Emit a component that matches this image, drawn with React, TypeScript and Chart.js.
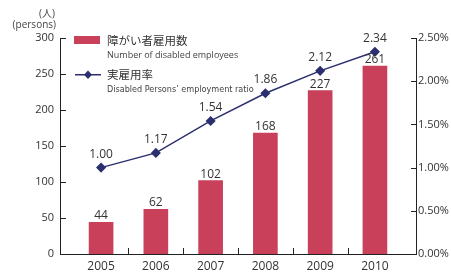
import React, { useEffect, useRef } from "react";
import { Chart, registerables } from "chart.js";

Chart.register(...registerables);

const years = ["2005", "2006", "2007", "2008", "2009", "2010"];
const employees = [44, 62, 102, 168, 227, 261];
const ratio = [1.0, 1.17, 1.54, 1.86, 2.12, 2.34];
const leftTicks = [0, 50, 100, 150, 200, 250, 300];
const rightTicks = [0, 0.5, 1.0, 1.5, 2.0, 2.5];

const BAR_COLOR = "#C8405A";
const LINE_COLOR = "#2C2F6E";
const TEXT = "#333333";
const AXIS = "#222222";
const FONT = "'Open Sans', 'Noto Sans CJK JP', sans-serif";

const axesPlugin = {
  id: "axesPlugin",
  afterDatasetsDraw(chart: any) {
    const ctx = chart.ctx;
    const x = chart.scales.x;
    const y = chart.scales.y;
    const y1 = chart.scales.y1;
    const ca = chart.chartArea;
    const L = Math.round(ca.left);
    const R = Math.round(ca.right);
    const T = Math.round(ca.top);
    const B = Math.round(ca.bottom);
    ctx.save();
    ctx.globalAlpha = 1;
    ctx.globalCompositeOperation = "source-over";
    ctx.fillStyle = AXIS;
    ctx.fillRect(L, T, 1, B - T + 1);
    ctx.fillRect(R, T, 1, B - T + 1);
    ctx.fillRect(L, B, R - L + 1, 1);
    leftTicks.forEach((v) => {
      const py = Math.round(y.getPixelForValue(v));
      ctx.fillRect(L, py, 6, 1);
    });
    rightTicks.forEach((v) => {
      const py = Math.round(y1.getPixelForValue(v));
      ctx.fillRect(R - 5, py, 6, 1);
    });
    for (let i = 0; i < years.length - 1; i++) {
      const px = Math.round(x.getPixelForValue(i + 0.5));
      ctx.fillRect(px, B - 6, 1, 6);
    }
    ctx.restore();
  },
};

const textPlugin = {
  id: "textPlugin",
  afterDraw(chart: any) {
    const ctx = chart.ctx;
    ctx.save();
    ctx.fillStyle = TEXT;
    ctx.textAlign = "center";
    ctx.textBaseline = "alphabetic";
    ctx.font = `12px ${FONT}`;
    chart.getDatasetMeta(0).data.forEach((el: any, i: number) => {
      ctx.fillText(String(employees[i]), el.x, el.y - 3);
    });
    chart.getDatasetMeta(1).data.forEach((el: any, i: number) => {
      ctx.fillText(ratio[i].toFixed(2), el.x, el.y - 10);
    });
    ctx.fillStyle = "#444444";
    ctx.textAlign = "right";
    ctx.font = `10px ${FONT}`;
    ctx.fillText("(人)", 55, 17);
    ctx.fillText("(persons)", 56, 28);
    ctx.textAlign = "left";
    ctx.fillStyle = TEXT;
    ctx.font = `11.5px ${FONT}`;
    ctx.fillText("障がい者雇用数", 107, 45);
    ctx.fillText("実雇用率", 107, 79);
    ctx.fillStyle = "#444444";
    ctx.font = `9px ${FONT}`;
    ctx.fillText("Number of disabled employees", 107, 58);
    ctx.font = `9px 'Liberation Sans Narrow', 'DejaVu Sans Condensed', ${FONT}`;
    ctx.fillText("Disabled Persons’ employment ratio", 107, 92);
    ctx.fillStyle = BAR_COLOR;
    ctx.fillRect(74, 36, 26, 8);
    ctx.fillStyle = LINE_COLOR;
    ctx.fillRect(75, 74, 26, 1.5);
    ctx.beginPath();
    ctx.moveTo(88, 70.5);
    ctx.lineTo(92, 74.75);
    ctx.lineTo(88, 79);
    ctx.lineTo(84, 74.75);
    ctx.closePath();
    ctx.fill();
    ctx.restore();
  },
};

export default function App() {
  const ref = useRef<HTMLCanvasElement>(null);
  useEffect(() => {
    document.body.style.margin = "0";
    const chart = new Chart(ref.current!, {
      type: "bar",
      data: {
        datasets: [
          {
            type: "bar",
            data: employees.map((v, i) => ({ x: i, y: v })),
            backgroundColor: BAR_COLOR,
            barThickness: 24,
            yAxisID: "y",
            order: 2,
          } as any,
          {
            type: "line",
            data: ratio.map((v, i) => ({ x: i, y: v })),
            borderColor: LINE_COLOR,
            backgroundColor: LINE_COLOR,
            borderWidth: 1.5,
            pointStyle: "rectRot",
            pointRadius: 4,
            yAxisID: "y1",
            order: 1,
          } as any,
        ],
      },
      options: {
        animation: false,
        responsive: false,
        layout: { padding: { top: 38, left: 0, right: 0, bottom: 0 } },
        plugins: { legend: { display: false }, tooltip: { enabled: false } },
        scales: {
          x: {
            type: "linear",
            offset: false,
            min: -0.75,
            max: 5.75,
            afterBuildTicks: (s: any) => {
              s.ticks = years.map((_, i) => ({ value: i }));
            },
            afterFit: (s: any) => {
              s.height = 18;
            },
            grid: { display: false, drawTicks: false, offset: false },
            border: { display: true, color: AXIS, width: 1 },
            ticks: {
              padding: 5,
              color: TEXT,
              font: { family: FONT, size: 12 },
              callback: (v: any) => years[Math.round(v)] ?? "",
              maxRotation: 0,
            },
          },
          y: {
            position: "left",
            min: 0,
            max: 300,
            afterBuildTicks: (s: any) => {
              s.ticks = leftTicks.map((v) => ({ value: v }));
            },
            afterFit: (s: any) => {
              s.width = 60;
            },
            grid: { display: false, drawTicks: false },
            border: { display: true, color: AXIS, width: 1 },
            ticks: { padding: 6, color: TEXT, font: { family: FONT, size: 11 } },
          },
          y1: {
            position: "right",
            min: 0,
            max: 2.5,
            afterBuildTicks: (s: any) => {
              s.ticks = rightTicks.map((v) => ({ value: v }));
            },
            afterFit: (s: any) => {
              s.width = 35;
            },
            grid: { display: false, drawTicks: false },
            border: { display: true, color: AXIS, width: 1 },
            ticks: {
              padding: 2,
              color: TEXT,
              font: { family: FONT, size: 11 },
              callback: (v: any) => Number(v).toFixed(2) + "%",
            },
          },
        },
      },
      plugins: [axesPlugin, textPlugin],
    });
    return () => chart.destroy();
  }, []);
  return (
    <div style={{ position: "fixed", left: 0, top: 0, width: 451, height: 272 }}>
      <canvas ref={ref} width={451} height={272} />
    </div>
  );
}
